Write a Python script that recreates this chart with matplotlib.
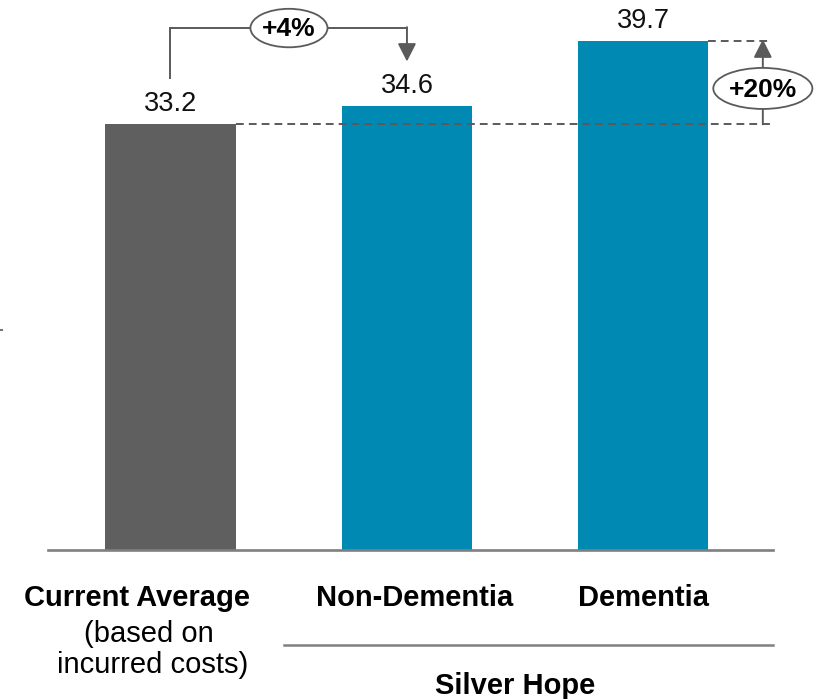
import matplotlib
matplotlib.use("Agg")
import matplotlib.pyplot as plt
from matplotlib.patches import Ellipse, FancyArrowPatch, ArrowStyle
from matplotlib.lines import Line2D

plt.rcParams['font.family'] = ['Liberation Sans', 'DejaVu Sans']

# ---- data ----
categories = ["Current Average", "Non-Dementia", "Dementia"]
values = [33.2, 34.6, 39.7]
value_labels = ["33.2", "34.6", "39.7"]
bar_colors = ["#5f5f5f", "#0089b3", "#0089b3"]
sub_label = ["(based on", "incurred costs)"]
group_label = "Silver Hope"
pct_nd = "+4%"
pct_d = "+20%"

W, H = 814, 699
fig = plt.figure(figsize=(W / 100, H / 100), dpi=100)
# axes: baseline at pixel 550, top at pixel 0, x from 48 to 773
ax = fig.add_axes([48 / W, (H - 550) / H, 725 / W, 550 / H])
ymax = 550 / (509 / values[2])
ax.set_ylim(0, ymax)
ax.set_xlim(-0.518, 2.548)
for s in ["left", "right", "top"]:
    ax.spines[s].set_visible(False)
ax.spines["bottom"].set_color("#7f7f7f")
ax.spines["bottom"].set_linewidth(1.9)
ax.set_xticks([])
ax.set_yticks([])
ax.patch.set_alpha(0)

x = list(range(len(values)))
bw = 0.55
ax.bar(x, values, width=bw, color=bar_colors, zorder=2)

# value labels
for xi, v, lab in zip(x, values, value_labels):
    ax.text(xi, v + 1.05, lab, ha="center", va="baseline", fontsize=19.5,
            color="#111111")

lc = "#5a5a5a"
lw = 1.4

# dashed reference lines
ax.plot([x[0] + bw / 2, 2.545], [values[0], values[0]], ls=(0, (4, 2.6)),
        color=lc, lw=lw, zorder=3, clip_on=False)
ax.plot([x[2] + bw / 2, 2.545], [values[2], values[2]], ls=(0, (4, 2.6)),
        color=lc, lw=lw, zorder=3, clip_on=False)

# +4% bracket
y_br = 40.71
ax.plot([x[0], x[0], x[1]], [values[0] + 3.6, y_br, y_br], color=lc, lw=lw,
        solid_joinstyle="miter", zorder=3, clip_on=False)
arr_style = ArrowStyle("-|>", head_length=11, head_width=5.6)
a1 = FancyArrowPatch((x[1], y_br + lw * 0.05), (x[1], values[1] + 3.5),
                     arrowstyle=arr_style, mutation_scale=1, color=lc, lw=lw,
                     shrinkA=0, shrinkB=0, zorder=3, clip_on=False)
ax.add_patch(a1)
e1 = Ellipse((0.501, y_br), 0.326, 3.0, facecolor="white", edgecolor=lc,
             lw=1.3, zorder=4, clip_on=False)
ax.add_patch(e1)
ax.text(0.501, y_br - 0.1, pct_nd, ha="center", va="center", fontsize=19,
        fontweight="bold", color="#000000", zorder=5, clip_on=False)

# +20% arrow
xa = 2.505
a2 = FancyArrowPatch((xa, values[0]), (xa, values[2] + 0.12),
                     arrowstyle=arr_style, mutation_scale=1, color=lc, lw=lw,
                     shrinkA=0, shrinkB=0, zorder=3, clip_on=False)
ax.add_patch(a2)
e2 = Ellipse((xa, 36.0), 0.419, 3.2, facecolor="white", edgecolor=lc,
             lw=1.3, zorder=4, clip_on=False)
ax.add_patch(e2)
ax.text(xa, 35.9, pct_d, ha="center", va="center", fontsize=19,
        fontweight="bold", color="#000000", zorder=5, clip_on=False)

# category labels
def py(p):
    return (550 - p) / (509 / values[2])

ax.text(-0.14, py(606), categories[0], ha="center", va="baseline",
        fontsize=21, fontweight="bold", clip_on=False)
ax.text(-0.093, py(642), sub_label[0], ha="center", va="baseline",
        fontsize=21, clip_on=False)
ax.text(-0.076, py(673), sub_label[1], ha="center", va="baseline",
        fontsize=21, clip_on=False)
ax.text(1.034, py(606), categories[1], ha="center", va="baseline",
        fontsize=21, fontweight="bold", clip_on=False)
ax.text(2.0, py(606), categories[2], ha="center", va="baseline",
        fontsize=21, fontweight="bold", clip_on=False)

# group line + label
ax.plot([0.478, 2.548], [py(645), py(645)], color="#808080", lw=1.8,
        clip_on=False)
ax.text(1.459, py(694), group_label, ha="center", va="baseline",
        fontsize=21, fontweight="bold", clip_on=False)

# tiny cut-off mark at left edge
fig.add_artist(Line2D([0, 1.5 / W], [(H - 330) / H, (H - 330) / H],
                      color="#777777", lw=1.5))

fig.savefig("out.png", dpi=100)
